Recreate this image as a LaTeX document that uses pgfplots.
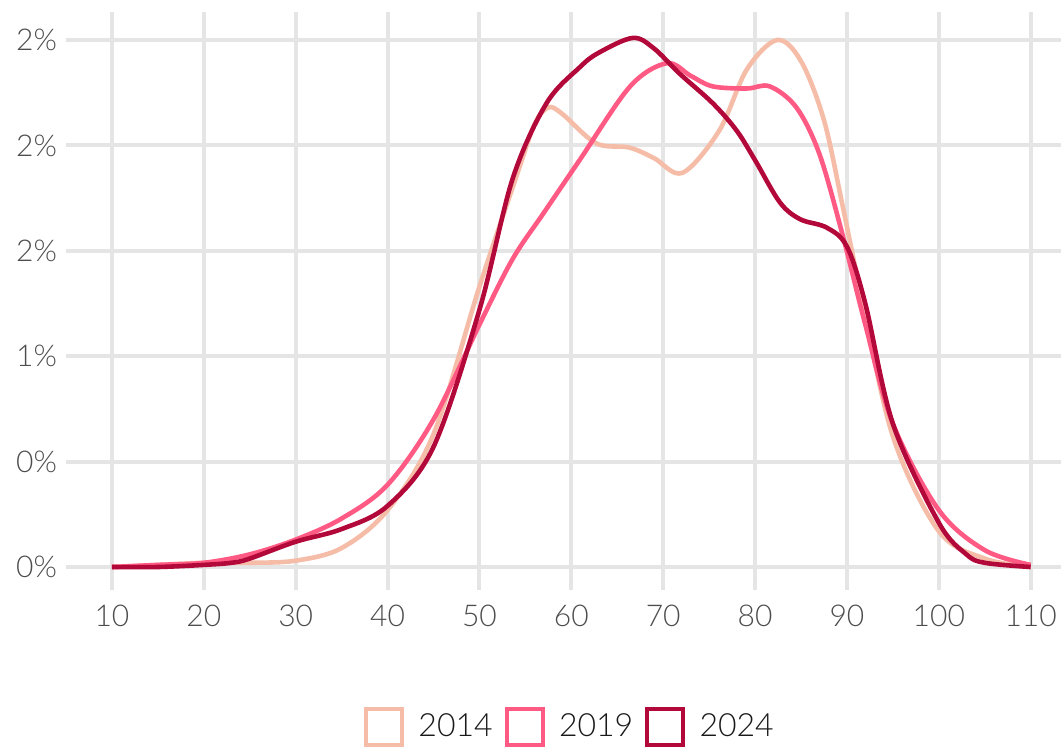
\documentclass[border=0pt]{standalone}
\usepackage{fontspec}
\setmainfont{Lato Light}
\usepackage{pgfplots}
\pgfplotsset{compat=1.18}
\definecolor{c14}{HTML}{F5BDA8}
\definecolor{c19}{HTML}{FF5A84}
\definecolor{c24}{HTML}{B3083A}
\definecolor{gridc}{HTML}{E5E5E5}
\definecolor{tickc}{HTML}{4D4D4D}
\begin{document}
\begin{tikzpicture}
\useasboundingbox (0,0) rectangle (530.5pt,373.5pt);
\begin{axis}[
  at={(33pt,78.5pt)}, anchor=south west,
  scale only axis, width=497.5pt, height=289pt,
  xmin=5.0, xmax=113.3, ymin=-0.00109, ymax=0.02633,
  axis line style={draw=none},
  xtick={10,20,...,110}, ytick={0,0.005,0.01,0.015,0.02,0.025},
  yticklabels={0\%,0\%,1\%,2\%,2\%,2\%},
  xmajorgrids, ymajorgrids, major grid style={gridc, line width=2pt},
  major tick length=0pt,
  /pgf/number format/assume math mode=true,
  ticklabel style={font=\fontsize{15}{18}\selectfont, text=tickc},
  xticklabel style={yshift=-4pt},
  yticklabel style={xshift=-1pt},
  clip=false,
  legend columns=3,
  legend style={at={(0.5075,-0.237)}, anchor=center, draw=none, fill=none,
    font=\fontsize{16}{19}\selectfont, text=black!90,
    /tikz/every even column/.append style={column sep=4pt}},
  legend image code/.code={\draw[line width=2pt] (1pt,-9pt) rectangle (19pt,9pt); \path (24pt,0);},
  every axis plot/.append style={line width=2.3pt, smooth, tension=0.55, no marks},
]
\addplot[c14] coordinates {
(10,0) (15,0.0001) (20,0.0002) (25,0.0002) (30,0.0003) (35,0.0009) (40,0.0027)
(45,0.0063) (50,0.0133) (54,0.0185) (56,0.0210) (57.5,0.0218) (59,0.0215) (62.7,0.0201)
(66.3,0.0199) (69,0.0194) (72.1,0.0187) (76.1,0.0207) (79.1,0.0236) (82.4,0.0250)
(85,0.0240) (87.5,0.0212) (89.5,0.0172) (91.5,0.0130) (95,0.0062) (100,0.0017) (105,0.0004) (110,0.0)
};
\addlegendentry{2014}
\addplot[c19] coordinates {
(10,0) (15,0.0001) (20,0.0002) (25,0.0006) (30,0.0013) (35,0.0023) (40,0.0039)
(45,0.0070) (50,0.0115) (53.6,0.0146) (57,0.0168) (60.9,0.0193) (66.4,0.0228)
(70.4,0.0239) (73,0.0233) (75.4,0.0228) (79.1,0.0227) (81.6,0.0228) (84.5,0.0218)
(87,0.0196) (89.5,0.0158) (92,0.0115) (95,0.0068) (100,0.0027) (105,0.0008) (110,0.0001)
};
\addlegendentry{2019}
\addplot[c24] coordinates {
(10,0) (15,0.0) (20,0.0001) (23,0.0002) (25,0.0004) (30,0.0012) (35,0.0018) (40,0.0029)
(45,0.0057) (50,0.0122) (53.6,0.0184) (57.3,0.0220) (60.9,0.0237) (63,0.0244)
(66.7,0.0251) (69,0.0246) (71.8,0.0234) (75.4,0.0220) (78,0.0207) (80,0.0193)
(82.7,0.0173) (84.9,0.0165) (87.8,0.0161) (90,0.0152) (92,0.0125) (95,0.0068)
(100,0.0021) (103,0.0006) (105,0.0002) (110,0.0)
};
\addlegendentry{2024}
\end{axis}
\end{tikzpicture}
\end{document}
